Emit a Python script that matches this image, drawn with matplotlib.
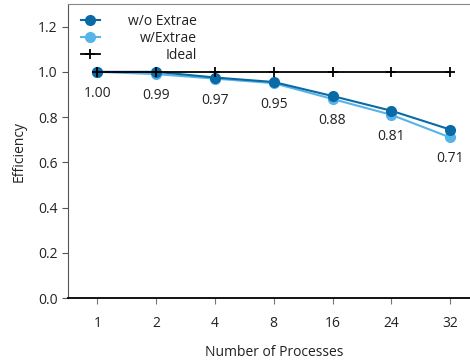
import matplotlib.pyplot as plt

plt.rcParams['font.family'] = ['Open Sans', 'DejaVu Sans']

procs = ['1', '2', '4', '8', '16', '24', '32']
eff_no_extrae = [1.00, 1.00, 0.975, 0.955, 0.893, 0.828, 0.745]
eff_extrae = [1.00, 0.99, 0.97, 0.95, 0.88, 0.81, 0.71]
ideal = [1.0] * len(procs)

x = list(range(1, len(procs) + 1))

fig = plt.figure(figsize=(4.70, 3.62), dpi=100)
ax = fig.add_axes([68 / 470, 64 / 362, 411.5 / 470, 294 / 362])

ax.plot(x, ideal, color='black', lw=1.3, marker='+', ms=7, mew=1.3, label='Ideal', zorder=4)
ax.plot(x, eff_extrae, color='#56b4e9', lw=1.5, marker='o', ms=7, label='w/Extrae', zorder=2)
ax.plot(x, eff_no_extrae, color='#0a6aa6', lw=1.5, marker='o', ms=7, label='w/o Extrae', zorder=3)

for xi, v in zip(x, eff_extrae):
    ax.annotate(f'{v:.2f}', (xi, v), xytext=(0, -10), textcoords='offset points',
                ha='center', va='top', fontsize=10, color='#222222')

ax.set_xlim(0.5, 7.5)
ax.set_ylim(0, 1.3)
ax.set_xticks(x)
ax.set_xticklabels(procs)
ax.set_yticks([0.0, 0.2, 0.4, 0.6, 0.8, 1.0, 1.2])
ax.set_yticklabels(['0.0', '0.2', '0.4', '0.6', '0.8', '1.0', '1.2'])
ax.tick_params(axis='both', labelsize=10, colors='#222222', length=4, width=0.8)
ax.tick_params(axis='y', color='#555555')
ax.tick_params(axis='x', color='#777777', pad=9)

ax.set_xlabel('Number of Processes', fontsize=10, color='#222222', labelpad=10)
ax.set_ylabel('Efficiency', fontsize=10, color='#222222', labelpad=8)

ax.spines['bottom'].set_color('black')
ax.spines['bottom'].set_linewidth(1.3)
ax.spines['left'].set_color('#555555')
ax.spines['top'].set_color('#888888')
ax.spines['right'].set_color('#888888')

handles, labels = ax.get_legend_handles_labels()
order = [2, 1, 0]
leg = ax.legend([handles[i] for i in order], [labels[i] for i in order],
                loc='upper left', bbox_to_anchor=(0.0, 1.01), frameon=False,
                fontsize=10, handlelength=1.4, labelspacing=0.15, handletextpad=2.0)

# right-align legend labels by shifting the shorter ones
renderer = fig.canvas.get_renderer()
widths = [t.get_window_extent(renderer).width for t in leg.get_texts()]
widest = max(widths)
for t, w in zip(leg.get_texts(), widths):
    t.set_position((widest - w, 0))
    t.set_color('#222222')

fig.savefig('out.png', dpi=100)
